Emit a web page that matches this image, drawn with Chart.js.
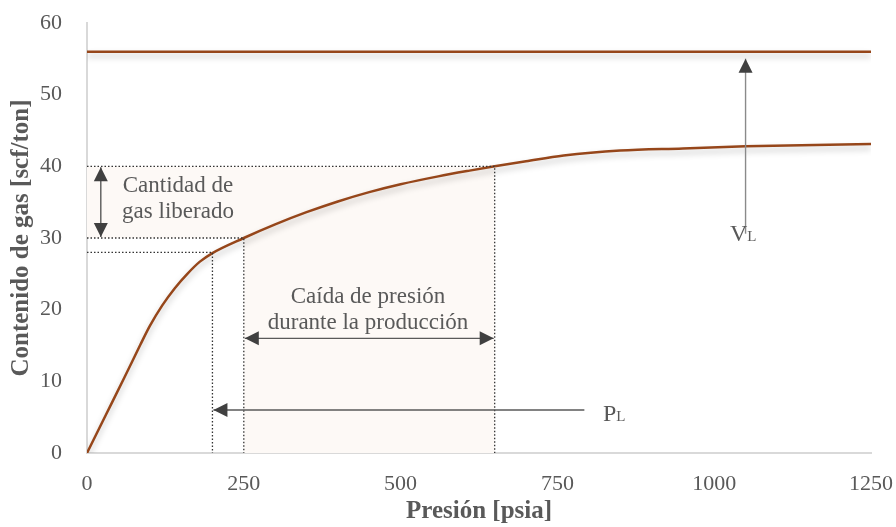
<!DOCTYPE html>
<html>
<head>
<meta charset="utf-8">
<script src="https://cdn.jsdelivr.net/npm/chart.js@4.4.1/dist/chart.umd.min.js"></script>
<style>
  html, body { margin: 0; padding: 0; background: #fff; }
  #wrap { width: 896px; height: 527px; }
</style>
</head>
<body>
<div id="wrap"><canvas id="mychart" width="896" height="527"></canvas></div>
<script>
// curva de adsorcion (presion psia, contenido scf/ton)
const presion = [0, 30, 60, 85, 100, 120, 140, 160, 180, 200, 250, 300, 350, 400, 450, 500, 560, 610, 650, 700, 760, 850, 950, 1050, 1250];
const contenido = [0, 5.3, 10.6, 15.1, 17.7, 20.6, 23.0, 25.0, 26.7, 27.9, 30.0, 31.9, 33.6, 35.1, 36.4, 37.5, 38.6, 39.4, 40.0, 40.7, 41.5, 42.2, 42.5, 42.8, 43.1];

// volumen de Langmuir
const volumenLangmuir = 56;
const rangoX = [0, 1250];

// puntos de referencia
const presionLangmuir = 200;
const presionFinal = 250;
const presionInicial = 650;
const gasLangmuir = 28;
const gasFinal = 30;
const gasInicial = 40;

const xTicks = [0, 250, 500, 750, 1000, 1250];
const yTicks = [0, 10, 20, 30, 40, 50, 60];

const serif = '"Liberation Serif", "Times New Roman", serif';
const brown = "#96461a";
const gray = "#595959";

const dotted = (pts) => ({
  data: pts,
  borderColor: "#333333",
  borderWidth: 1.3,
  borderDash: [1.5, 2],
  pointRadius: 0,
  showLine: true,
  tension: 0,
  sombra: false,
});

const anotaciones = {
  id: "anotaciones",
  beforeDatasetsDraw(chart) {
    const { ctx, scales: { x, y } } = chart;
    ctx.save();
    ctx.fillStyle = "#fdf9f6";
    ctx.fillRect(x.getPixelForValue(0), y.getPixelForValue(gasInicial),
      x.getPixelForValue(presionInicial) - x.getPixelForValue(0),
      y.getPixelForValue(gasFinal) - y.getPixelForValue(gasInicial));
    ctx.fillRect(x.getPixelForValue(presionFinal), y.getPixelForValue(gasFinal),
      x.getPixelForValue(presionInicial) - x.getPixelForValue(presionFinal),
      y.getPixelForValue(0) - y.getPixelForValue(gasFinal));
    ctx.restore();
  },
  beforeDatasetDraw(chart, args) {
    const ds = chart.data.datasets[args.index];
    chart.ctx.save();
    if (ds.sombra) {
      chart.ctx.shadowColor = "rgba(0,0,0,0.25)";
      chart.ctx.shadowBlur = 6;
      chart.ctx.shadowOffsetY = 4;
    }
  },
  afterDatasetDraw(chart) {
    chart.ctx.restore();
  },
  afterDatasetsDraw(chart) {
    const { ctx, scales: { x, y } } = chart;
    const px = (v) => x.getPixelForValue(v);
    const py = (v) => y.getPixelForValue(v);

    const head = (tx, ty, ang) => {
      const L = 14, W = 7;
      ctx.beginPath();
      ctx.moveTo(tx, ty);
      ctx.lineTo(tx - L * Math.cos(ang) + W * Math.sin(ang), ty - L * Math.sin(ang) - W * Math.cos(ang));
      ctx.lineTo(tx - L * Math.cos(ang) - W * Math.sin(ang), ty - L * Math.sin(ang) + W * Math.cos(ang));
      ctx.closePath();
      ctx.fill();
    };
    const arrow = (x1, y1, x2, y2, both, color) => {
      const ang = Math.atan2(y2 - y1, x2 - x1);
      ctx.strokeStyle = color;
      ctx.lineWidth = 1.4;
      ctx.beginPath();
      ctx.moveTo(x1, y1);
      ctx.lineTo(x2, y2);
      ctx.stroke();
      ctx.fillStyle = "#404040";
      head(x2, y2, ang);
      if (both) head(x1, y1, ang + Math.PI);
    };

    ctx.save();
    // cantidad de gas liberado
    arrow(px(22), py(gasFinal) - 1, px(22), py(gasInicial) + 1, true, gray);
    // caida de presion
    arrow(px(presionFinal) + 1, py(16), px(presionInicial) - 1, py(16), true, gray);
    // P_L
    arrow(px(793), py(6), px(presionLangmuir) + 1, py(6), false, gray);
    // V_L
    arrow(px(1050), py(30.6), px(1050), py(volumenLangmuir) + 7, false, "#8a8a8a");

    ctx.fillStyle = gray;
    ctx.textAlign = "center";
    ctx.textBaseline = "middle";
    ctx.font = "23px " + serif;
    ctx.fillText("Cantidad de", 178, 186);
    ctx.fillText("gas liberado", 178, 212);
    ctx.fillText("Caída de presión", 368, 297);
    ctx.fillText("durante la producción", 368, 323);

    const sub = (main, s, lx, by) => {
      ctx.textAlign = "left";
      ctx.textBaseline = "alphabetic";
      ctx.font = "24px " + serif;
      ctx.fillText(main, lx, by);
      const w = ctx.measureText(main).width;
      ctx.font = "15px " + serif;
      ctx.fillText(s, lx + w, by);
    };
    sub("V", "L", 730, 241);
    sub("P", "L", 603, 421);
    ctx.restore();
  },
};

const myChart = new Chart(document.getElementById("mychart"), {
  type: "scatter",
  data: {
    datasets: [
      dotted([{ x: 0, y: gasInicial }, { x: presionInicial, y: gasInicial }, { x: presionInicial, y: 0 }]),
      dotted([{ x: 0, y: gasFinal }, { x: presionFinal, y: gasFinal }, { x: presionFinal, y: 0 }]),
      dotted([{ x: 0, y: gasLangmuir }, { x: presionLangmuir, y: gasLangmuir }, { x: presionLangmuir, y: 0 }]),
      {
        data: rangoX.map((v) => ({ x: v, y: volumenLangmuir })),
        borderColor: brown,
        borderWidth: 2.5,
        pointRadius: 0,
        showLine: true,
        sombra: true,
      },
      {
        data: presion.map((p, i) => ({ x: p, y: contenido[i] })),
        borderColor: brown,
        borderWidth: 2.5,
        pointRadius: 0,
        showLine: true,
        cubicInterpolationMode: "monotone",
        sombra: true,
      },
    ],
  },
  options: {
    responsive: false,
    animation: false,
    layout: { padding: { top: 23, right: 25, left: 0, bottom: 0 } },
    plugins: { legend: { display: false }, tooltip: { enabled: false } },
    scales: {
      x: {
        type: "linear",
        min: 0,
        max: 1250,
        afterBuildTicks: (s) => { s.ticks = xTicks.map((v) => ({ value: v })); },
        afterFit: (s) => { s.height = 74; s.paddingLeft = 0; s.paddingRight = 0; },
        grid: { display: false },
        border: { display: true, color: "#d9d9d9", width: 2 },
        ticks: { color: gray, font: { family: serif, size: 22 }, padding: 10, callback: (v) => String(v) },
        title: {
          display: true,
          text: "Presión [psia]",
          color: gray,
          font: { family: serif, size: 25, weight: "bold" },
          padding: { top: 0, bottom: 0 },
        },
      },
      y: {
        min: 0,
        max: 60,
        afterBuildTicks: (s) => { s.ticks = yTicks.map((v) => ({ value: v })); },
        afterFit: (s) => { s.width = 87; s.paddingTop = 0; s.paddingBottom = 0; },
        grid: { display: false },
        border: { display: true, color: "#d9d9d9", width: 2 },
        ticks: { color: gray, font: { family: serif, size: 22 }, padding: 17, callback: (v) => String(v) },
        title: {
          display: true,
          text: "Contenido de gas [scf/ton]",
          color: gray,
          font: { family: serif, size: 25, weight: "bold" },
          padding: { top: 7, bottom: 0 },
        },
      },
    },
  },
  plugins: [anotaciones],
});
</script>
</body>
</html>
